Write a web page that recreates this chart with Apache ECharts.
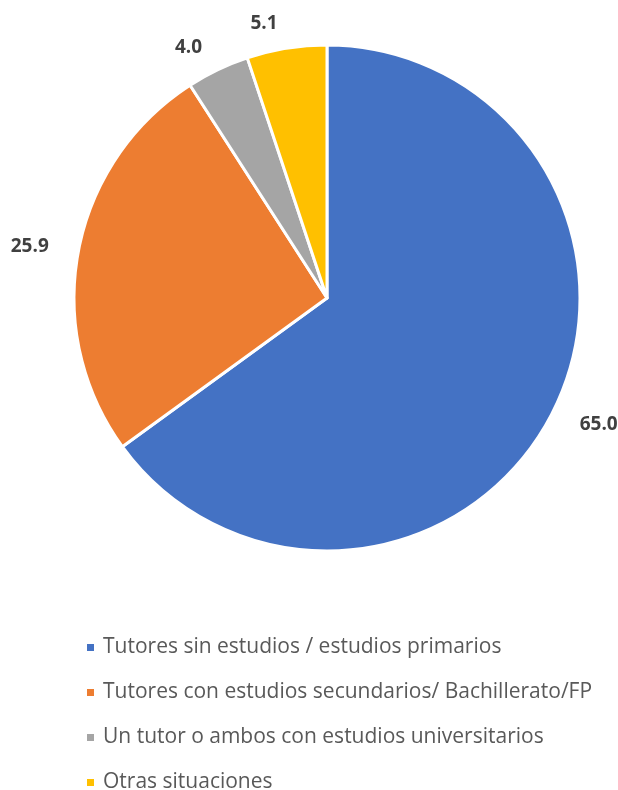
<!DOCTYPE html>
<html>
<head>
<meta charset="utf-8">
<script src="https://cdn.jsdelivr.net/npm/echarts@6/dist/echarts.min.js"></script>
<style>
  html, body { margin: 0; padding: 0; background: #fff; }
  #chart { width: 618px; height: 790px; }
</style>
</head>
<body>
<div id="chart"></div>
<script>
// categorias y valores (%)
const categorias = [
  "Tutores sin estudios / estudios primarios",
  "Tutores con estudios secundarios/ Bachillerato/FP",
  "Un tutor o ambos con estudios universitarios",
  "Otras situaciones"
];
const valores = [65.0, 25.9, 4.0, 5.1];
const colores = ["#4472C4", "#ED7D31", "#A5A5A5", "#FFC000"];

(function () {
  let myChart = echarts.init(document.getElementById('chart'));
  let option = {
    color: colores,
    legend: {
      orient: 'vertical',
      left: 80,
      top: 632,
      height: 200,
      itemWidth: 9,
      itemHeight: 9,
      itemGap: 24,
      icon: 'rect',
      data: categorias,
      textStyle: {
        color: "#595959",
        fontSize: 21,
        fontFamily: "Open Sans",
        padding: [0, 0, 0, 3]
      }
    },
    series: [{
      type: 'pie',
      center: [327, 298],
      radius: [0, 253],
      startAngle: 90,
      clockwise: true,
      itemStyle: {
        borderColor: '#fff',
        borderWidth: 3
      },
      label: {
        show: true,
        position: 'outside',
        overflow: 'none',
        formatter: function (p) { return p.value.toFixed(1); },
        color: '#404040',
        fontSize: 19,
        fontWeight: 'bold',
        fontFamily: "Open Sans"
      },
      labelLine: {
        show: false,
        length: 25,
        length2: 0
      },
      data: categorias.map(function (c, i) {
        return { name: c, value: valores[i] };
      })
    }]
  };
  myChart.setOption(option);
  window.addEventListener("resize", function () {
    myChart.resize();
  });
})();
</script>
</body>
</html>
